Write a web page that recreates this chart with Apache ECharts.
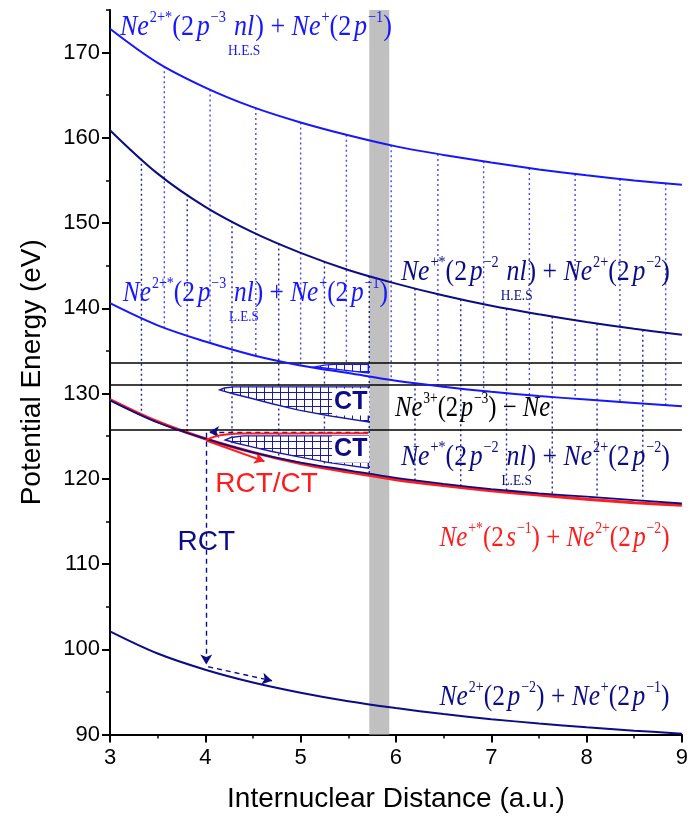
<!DOCTYPE html>
<html><head><meta charset="utf-8">
<script src="https://cdn.jsdelivr.net/npm/echarts@6/dist/echarts.min.js"></script>
<style>html,body{margin:0;padding:0;background:#fff}#c{width:691px;height:822px}</style>
</head><body><div id="c"></div>
<script>
// ---------- data ----------
const R = [3, 3.5, 4, 4.5, 5, 5.5, 6, 6.5, 7, 7.5, 8, 8.5, 9];
const curveA   = [172.8, 168.8, 165.9, 163.6, 161.8, 160.3, 159.0, 158.0, 157.1, 156.3, 155.6, 155.0, 154.5];
const curveB   = [160.9, 155.8, 151.9, 148.9, 146.5, 144.5, 142.9, 141.5, 140.3, 139.3, 138.4, 137.6, 136.9];
const curveC   = [140.6, 138.0, 136.1, 134.5, 133.3, 132.4, 131.5, 130.8, 130.2, 129.7, 129.3, 128.9, 128.5];
const curveD   = [129.2, 126.6, 124.7, 123.1, 121.9, 121.0, 120.1, 119.4, 118.8, 118.3, 117.9, 117.5, 117.1];
const curveRed = [129.3, 126.7, 124.7, 123.1, 121.8, 120.8, 119.9, 119.2, 118.6, 118.1, 117.6, 117.2, 116.9];
const curveE   = [102.1, 99.5, 97.6, 96.1, 94.9, 93.9, 93.1, 92.4, 91.8, 91.3, 90.85, 90.45, 90.1];
const levels = [133.65, 131.07, 125.8];
const band = [5.72, 5.93];
const dropAC = [3.57, 4.05, 4.53, 5.0, 5.48, 5.95, 6.44, 6.92, 7.40, 7.88, 8.35, 8.83];
const dropBD = [3.33, 3.81, 4.28, 4.77, 5.25, 5.72, 6.2, 6.68, 7.16, 7.64, 8.11, 8.59];
const wedge1 = [[5.15,133.13],[5.25,133.33],[5.35,133.42],[5.71,133.42],[5.71,132.43],[5.45,132.75],[5.25,133.0]];
const wedge2 = [[4.15,130.42],[4.2,130.65],[4.3,130.79],[5.71,130.79],[5.71,126.68],[5.3,127.4],[4.98,128.05],[4.7,128.8],[4.49,129.42],[4.3,129.95],[4.2,130.25]];
const wedge3 = [[4.21,124.55],[4.27,124.85],[4.4,125.03],[5.71,125.03],[5.71,121.24],[5.3,121.9],[4.98,122.57],[4.7,123.2],[4.49,123.75],[4.32,124.2]];
const redLoop = [[4.01,124.55],[4.1,124.95],[4.22,125.2],[4.4,125.3],[5.71,125.33]];
const xTicks = [3, 4, 5, 6, 7, 8, 9];
const yTicks = [90, 100, 110, 120, 130, 140, 150, 160, 170];

// ---------- helpers ----------
const BLUE = '#1616ff', NAVY = '#0c0c86', RED = '#ff1c1c';
const pairs = arr => R.map((r, i) => [r, arr[i]]);
function interp(arr, x) {
  for (let i = 0; i < R.length - 1; i++) {
    if (x >= R[i] && x <= R[i + 1]) { const t = (x - R[i]) / (R[i + 1] - R[i]); return arr[i] + (arr[i + 1] - arr[i]) * t; }
  }
  return arr[arr.length - 1];
}
function hatch(color) {
  const c = document.createElement('canvas'); c.width = 8; c.height = 7;
  const g = c.getContext('2d'); g.fillStyle = '#fff'; g.fillRect(0, 0, 8, 7);
  g.strokeStyle = color; g.lineWidth = 1; g.beginPath();
  g.moveTo(0.5, 0); g.lineTo(0.5, 7); g.moveTo(0, 0.5); g.lineTo(8, 0.5); g.stroke();
  return c;
}
const wedges = [wedge1, wedge2, wedge3];
const wedgeColors = [BLUE, '#1a1aa8', '#1a1aa8'];
const hatchImgs = wedgeColors.map(hatch);

const chart = echarts.init(document.getElementById('c'));
const SANS = '"Liberation Sans", Arial, sans-serif';
const SERIF = '"Liberation Serif", "Times New Roman", serif';
const axisFont = { fontFamily: SANS, color: '#000' };

function curve(data, color, width, z) {
  return { type: 'line', data: pairs(data), smooth: 0.35, symbol: 'none', z: z || 4,
    lineStyle: { color, width }, xAxisIndex: 0, yAxisIndex: 0, silent: true };
}
function dropSeries(xs, top, bot, color) {
  return { type: 'custom', xAxisIndex: 0, yAxisIndex: 0, z: 3, silent: true,
    data: xs.map(x => [x, interp(top, x), interp(bot, x)]),
    encode: { x: 0, y: [1, 2] },
    renderItem: (p, api) => {
      const a = api.coord([api.value(0), api.value(1)]), b = api.coord([api.value(0), api.value(2)]);
      return { type: 'line', shape: { x1: a[0], y1: a[1], x2: b[0], y2: b[1] },
        style: { stroke: color, lineWidth: 1.4, lineDash: [2, 3] } };
    } };
}
const dash = c => ({ color: c, width: 1.4, type: [5, 4] });

const option = {
  animation: false,
  backgroundColor: '#fff',
  grid: [
    { left: 110, right: 5, top: 10, bottom: 87.5 },
    { left: 110, right: 5, top: 52.6, bottom: 87.5 }
  ],
  xAxis: [
    { gridIndex: 0, type: 'value', min: 3, max: 9, interval: 1,
      name: 'Internuclear Distance (a.u.)', nameLocation: 'middle', nameGap: 51,
      nameTextStyle: { ...axisFont, fontSize: 28 },
      axisLine: { lineStyle: { color: '#000', width: 2 } },
      axisTick: { inside: false, length: 8, lineStyle: { color: '#000', width: 2 } },
      minorTick: { show: true, splitNumber: 2, length: 4, lineStyle: { color: '#000', width: 1.5 } },
      splitLine: { show: false }, minorSplitLine: { show: false },
      axisLabel: { ...axisFont, fontSize: 22, margin: 12, formatter: v => xTicks.includes(v) ? String(v) : '' } },
    { gridIndex: 1, type: 'value', min: 3, max: 9, show: false }
  ],
  yAxis: [
    { gridIndex: 0, type: 'value', min: 90, max: 175, interval: 5,
      name: 'Potential Energy (eV)', nameLocation: 'middle', nameGap: 64,
      nameTextStyle: { ...axisFont, fontSize: 28 },
      axisLine: { show: true, lineStyle: { color: '#000', width: 2 } },
      axisTick: { show: true, inside: false, length: 4, lineStyle: { color: '#000', width: 1.5 } },
      splitLine: { show: false },
      axisLabel: { ...axisFont, fontSize: 22, margin: 10, formatter: v => yTicks.includes(v) ? String(v) : '' } },
    { gridIndex: 1, type: 'value', min: 90, max: 170, interval: 10,
      axisLine: { show: false }, axisLabel: { show: false }, splitLine: { show: false },
      axisTick: { show: true, inside: false, length: 8, lineStyle: { color: '#000', width: 2 } } }
  ],
  series: [
    { type: 'line', data: [], xAxisIndex: 0, yAxisIndex: 0, z: 1, silent: true,
      markArea: { silent: true, itemStyle: { color: '#c0c0c0' }, data: [[{ xAxis: band[0] }, { xAxis: band[1] }]] } },
    { type: 'line', data: [], xAxisIndex: 0, yAxisIndex: 0, z: 2, silent: true,
      markLine: { silent: true, symbol: 'none', label: { show: false },
        lineStyle: { color: '#000', width: 1.6, type: 'solid' },
        data: levels.map(v => ({ yAxis: v })) } },
    dropSeries(dropAC, curveA, curveC, '#4646ff'),
    dropSeries(dropBD, curveB, curveD, '#22229a'),
    { type: 'custom', xAxisIndex: 0, yAxisIndex: 0, z: 3, silent: true,
      data: wedges.map(w => w[0]), encode: { x: 0, y: 1 },
      renderItem: (p, api) => ({ type: 'polygon',
        shape: { points: wedges[p.dataIndex].map(pt => api.coord(pt)) },
        style: { fill: { image: hatchImgs[p.dataIndex], repeat: 'repeat' }, stroke: wedgeColors[p.dataIndex], lineWidth: 1.4 } }) },
    curve(curveRed, RED, 3, 4),
    curve(curveA, BLUE, 2, 5),
    curve(curveB, NAVY, 2, 5),
    curve(curveC, BLUE, 2, 5),
    curve(curveD, NAVY, 1.8, 5),
    curve(curveE, NAVY, 2, 5),
    { type: 'line', data: redLoop, symbol: 'none', smooth: 0.4, z: 5, silent: true,
      lineStyle: { color: RED, width: 2 } },
    { type: 'line', data: [], xAxisIndex: 0, yAxisIndex: 0, z: 6, silent: true,
      markLine: { silent: true, symbol: ['none', 'arrow'], symbolSize: [9, 10], label: { show: false },
        data: [
          [{ coord: [4.01, 124.5], lineStyle: { color: RED, width: 2, type: 'solid' } }, { coord: [4.62, 122.05], lineStyle: { color: RED, width: 2, type: 'solid' } }],
          [{ coord: [5.71, 125.48], lineStyle: dash(NAVY) }, { coord: [4.04, 125.48], lineStyle: dash(NAVY) }],
          [{ coord: [4.01, 125.4], lineStyle: dash(NAVY) }, { coord: [4.01, 98.2], lineStyle: dash(NAVY) }],
          [{ coord: [4.03, 97.95], lineStyle: dash(NAVY) }, { coord: [4.70, 96.3], lineStyle: dash(NAVY) }]
        ] } }
  ]
};
chart.setOption(option);

// ---------- formula labels laid out token by token, condensed to the reference width ----------
const mctx = document.createElement('canvas').getContext('2d');
function measure(font, t) { mctx.font = font; return mctx.measureText(t).width; }
function formula(tokens, anchor, color, base, targetW) {
  const p = chart.convertToPixel({ xAxisIndex: 0, yAxisIndex: 0 }, anchor);
  const x0 = p[0], yb = p[1];
  const items = []; let x = 0; let prev = null;
  for (const tk of tokens) {
    const [t, k, gap] = tk;
    let size = base, st = '', dy = 0;
    if (k === 'i') st = 'italic ';
    if (k === 'sup') { size = Math.round(base * 0.55); dy = -base * 0.47; }
    if (k === 'under') { size = Math.round(base * 0.5); }
    const font = st + size + 'px ' + SERIF;
    const w = measure(font, t);
    if (k === 'under') {
      items.push({ t, font, rx: prev.x + prev.w / 2, y: yb + 19 - 0.34 * size, align: 'center' });
      continue;
    }
    items.push({ t, font, rx: x, y: yb + dy - 0.34 * size, align: 'left' });
    prev = { x, w };
    x += w + (k === 'i' ? 1 : 0) + (gap || 0);
  }
  const s = targetW ? targetW / x : 1;
  return items.map(it => ({ type: 'text', x: x0 + it.rx * s, y: it.y, scaleX: s, z: 100,
    style: { text: it.t, font: it.font, fill: color, align: it.align, verticalAlign: 'middle', textAlign: it.align, textVerticalAlign: 'middle' } }));
}
const tA = [['Ne','i'],['2+*','sup'],['(2','r',3],['p','i'],['−3','sup',9],['nl','i'],['H.E.S','under'],[')','r'],[' + ','r'],['Ne','i'],['+','sup'],['(2','r',3],['p','i'],['−1','sup'],[')','r']];
const tC = tA.map(t => t[0] === 'H.E.S' ? ['L.E.S', 'under'] : t);
const tB = [['Ne','i'],['+*','sup'],['(2','r',3],['p','i'],['−2','sup',9],['nl','i'],['H.E.S','under'],[')','r'],[' + ','r'],['Ne','i'],['2+','sup'],['(2','r',3],['p','i'],['−2','sup'],[')','r']];
const tD = tB.map(t => t[0] === 'H.E.S' ? ['L.E.S', 'under'] : t);
const tN = [['Ne','i'],['3+','sup'],['(2','r',3],['p','i'],['−3','sup'],[')','r'],[' − ','r'],['Ne','i']];
const tR = [['Ne','i'],['+*','sup'],['(2','r',3],['s','i'],['−1','sup'],[')','r'],[' + ','r'],['Ne','i'],['2+','sup'],['(2','r',3],['p','i'],['−2','sup'],[')','r']];
const tE = [['Ne','i'],['2+','sup'],['(2','r',3],['p','i'],['−2','sup'],[')','r'],[' + ','r'],['Ne','i'],['+','sup'],['(2','r',3],['p','i'],['−1','sup'],[')','r']];

function plain(text, anchor, font, color, extra) {
  const p = chart.convertToPixel({ xAxisIndex: 0, yAxisIndex: 0 }, anchor);
  return { type: 'text', x: p[0], y: p[1], z: 100,
    style: Object.assign({ text, font, fill: color, align: 'left', verticalAlign: 'middle', textAlign: 'left', textVerticalAlign: 'middle' }, extra || {}) };
}
const elements = [].concat(
  formula(tA, [3.104, 171.83], BLUE, 29, 272),
  formula(tB, [6.052, 143.08], NAVY, 29, 269),
  formula(tC, [3.135, 140.61], BLUE, 29, 265),
  formula(tN, [5.99, 127.11], '#000', 29, 156),
  formula(tD, [6.052, 121.36], NAVY, 29, 269),
  formula(tR, [6.458, 111.85], RED, 29, 230),
  formula(tE, [6.458, 93.2], NAVY, 29, 230),
  [
    plain('RCT/CT', [4.104, 119.4], '28px ' + SANS, RED),
    plain('RCT', [3.708, 112.6], '28px ' + SANS, NAVY),
    plain('CT', [5.33, 129.0], 'bold 25px ' + SANS, NAVY, { backgroundColor: '#fff', padding: [1, 2, 1, 2] }),
    plain('CT', [5.33, 123.47], 'bold 25px ' + SANS, NAVY, { backgroundColor: '#fff', padding: [1, 2, 1, 2] })
  ]
);
chart.setOption({ graphic: { elements } });
</script>
</body></html>
